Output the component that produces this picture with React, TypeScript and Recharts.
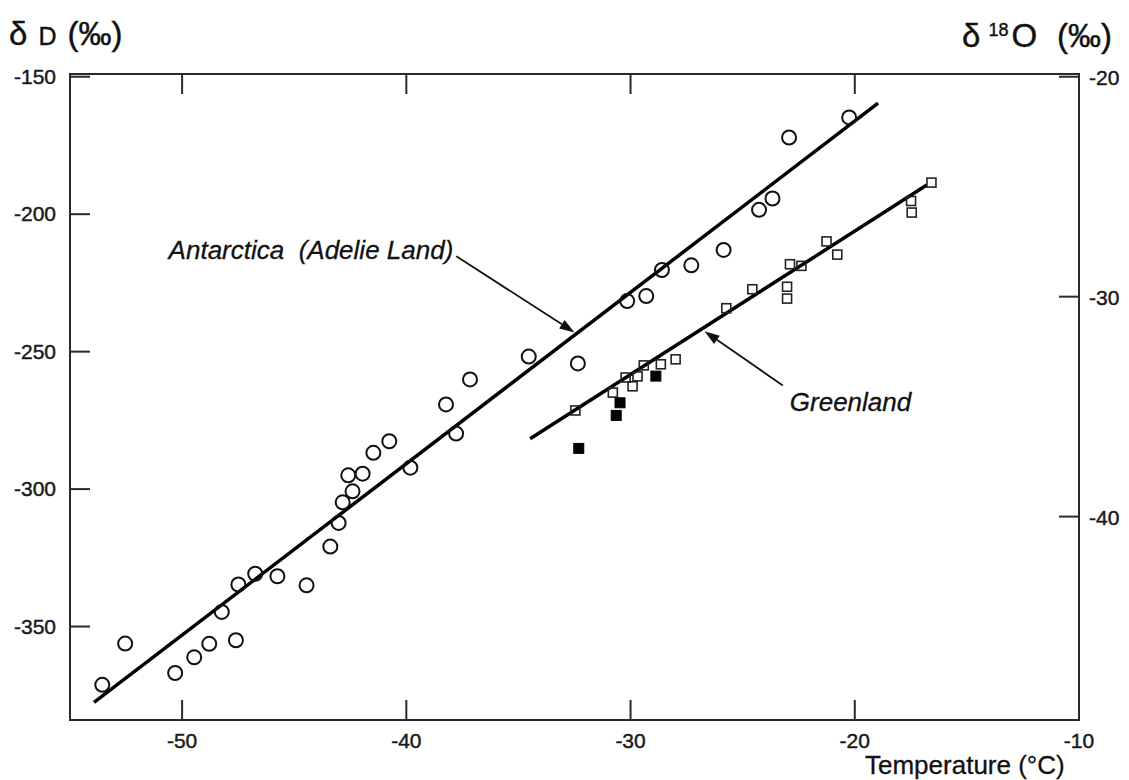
import { ScatterChart, Scatter, XAxis, YAxis, ReferenceArea, ReferenceLine } from "recharts";

const FONT = '"Liberation Sans", Arial, Helvetica, sans-serif';

// Antarctica (Adelie Land): surface temperature (°C) vs δD (‰)
const antarctica = [
  { t: -53.56, d: -371.2 },
  { t: -52.54, d: -356.2 },
  { t: -50.31, d: -366.9 },
  { t: -49.46, d: -361.2 },
  { t: -48.79, d: -356.3 },
  { t: -48.23, d: -344.7 },
  { t: -47.6, d: -355.0 },
  { t: -47.49, d: -334.7 },
  { t: -46.74, d: -330.8 },
  { t: -45.75, d: -331.7 },
  { t: -44.45, d: -335.0 },
  { t: -43.39, d: -320.9 },
  { t: -43.02, d: -312.3 },
  { t: -42.84, d: -304.8 },
  { t: -42.59, d: -295.0 },
  { t: -42.4, d: -300.8 },
  { t: -41.95, d: -294.4 },
  { t: -41.47, d: -286.8 },
  { t: -40.76, d: -282.6 },
  { t: -39.82, d: -292.2 },
  { t: -38.23, d: -269.2 },
  { t: -37.78, d: -279.8 },
  { t: -37.16, d: -260.1 },
  { t: -34.54, d: -251.8 },
  { t: -32.35, d: -254.3 },
  { t: -30.15, d: -231.6 },
  { t: -29.3, d: -229.8 },
  { t: -28.6, d: -220.3 },
  { t: -27.29, d: -218.6 },
  { t: -25.85, d: -213.0 },
  { t: -24.27, d: -198.4 },
  { t: -23.67, d: -194.3 },
  { t: -22.93, d: -172.1 },
  { t: -20.25, d: -164.8 },
];

// Greenland, open squares
const greenlandOpen = [
  { t: -32.46, d: -271.4 },
  { t: -30.79, d: -264.9 },
  { t: -30.22, d: -259.4 },
  { t: -29.91, d: -262.6 },
  { t: -29.69, d: -259.0 },
  { t: -29.41, d: -255.0 },
  { t: -28.65, d: -254.6 },
  { t: -27.99, d: -252.8 },
  { t: -25.73, d: -234.2 },
  { t: -24.57, d: -227.3 },
  { t: -23.02, d: -226.4 },
  { t: -23.02, d: -230.7 },
  { t: -22.89, d: -218.2 },
  { t: -22.38, d: -218.8 },
  { t: -21.26, d: -209.9 },
  { t: -20.78, d: -214.7 },
  { t: -17.49, d: -195.2 },
  { t: -17.46, d: -199.4 },
  { t: -16.58, d: -188.5 },
];

// Greenland, filled squares
const greenlandFilled = [
  { t: -32.31, d: -285.2 },
  { t: -30.64, d: -273.2 },
  { t: -30.47, d: -268.6 },
  { t: -28.87, d: -258.9 },
];

// regression lines (end points)
const antarcticaFit = [
  { t: -53.93, d: -377.6 },
  { t: -18.96, d: -159.6 },
];
const greenlandFit = [
  { t: -34.48, d: -281.7 },
  { t: -16.79, d: -189.4 },
];

const tempTicks = [-50, -40, -30, -20, -10];
const dDTicks = [-350, -300, -250, -200, -150];
const d18OTicks = [-40, -30, -20];
const tempDomain = [-55, -10];
const dDDomain = [-384, -149];
const d18ODomain = [-49.25, -19.875]; // δD = 8·δ18O + 10

const PLOT = { left: 70, right: 1079, top: 74, bottom: 720 };
const TICK_LEN = 20;
const AXIS = "#2a2a2a";

const tickText = {
  fontFamily: FONT,
  fontSize: 21,
  fill: "#1a1a1a",
  stroke: "#1a1a1a",
  strokeWidth: 0.45,
};

function BottomTick(props: any) {
  const { x, payload } = props;
  return (
    <g>
      <line x1={x} x2={x} y1={PLOT.bottom} y2={PLOT.bottom - TICK_LEN} stroke={AXIS} strokeWidth={2} />
      <line x1={x} x2={x} y1={PLOT.top} y2={PLOT.top + TICK_LEN} stroke={AXIS} strokeWidth={2} />
      <text x={x} y={PLOT.bottom + 28} textAnchor="middle" style={tickText}>
        {payload.value}
      </text>
    </g>
  );
}

function LeftTick(props: any) {
  const { y, payload } = props;
  return (
    <g>
      <line x1={PLOT.left} x2={PLOT.left + TICK_LEN} y1={y} y2={y} stroke={AXIS} strokeWidth={2} />
      <text x={PLOT.left - 14} y={y + 7} textAnchor="end" style={tickText}>
        {payload.value}
      </text>
    </g>
  );
}

function RightTick(props: any) {
  const { y, payload } = props;
  return (
    <g>
      <line x1={PLOT.right} x2={PLOT.right - TICK_LEN} y1={y} y2={y} stroke={AXIS} strokeWidth={2} />
      <text x={PLOT.right + 10} y={y + 8} textAnchor="start" style={tickText}>
        {payload.value}
      </text>
    </g>
  );
}

const circleShape = (p: any) => (
  <circle cx={p.cx} cy={p.cy} r={7} fill="none" stroke="#111" strokeWidth={2} />
);
const openSquare = (p: any) => (
  <rect x={p.cx - 4.5} y={p.cy - 4.5} width={9} height={9} fill="none" stroke="#222" strokeWidth={1.6} />
);
const filledSquare = (p: any) => (
  <rect x={p.cx - 5} y={p.cy - 5} width={10} height={10} fill="#000" stroke="#000" />
);
const noShape = () => <g />;

// arrow with its label, label placed relative to the start of the arrow
function arrowWithLabel(text: string, dx: number, dy: number, anchor: "start" | "end") {
  return (props: any) => {
    const { x1, y1, x2, y2 } = props;
    const a = Math.atan2(y2 - y1, x2 - x1);
    const len = 15;
    const half = 5;
    const bx = x2 - len * Math.cos(a);
    const by = y2 - len * Math.sin(a);
    const pts = [
      `${x2},${y2}`,
      `${bx + half * Math.sin(a)},${by - half * Math.cos(a)}`,
      `${bx - half * Math.sin(a)},${by + half * Math.cos(a)}`,
    ].join(" ");
    return (
      <g>
        <line x1={x1} y1={y1} x2={bx} y2={by} stroke="#111" strokeWidth={1.8} />
        <polygon points={pts} fill="#111" />
        <text
          x={x1 + dx}
          y={y1 + dy}
          textAnchor={anchor}
          style={{
            fontFamily: FONT,
            fontSize: 26,
            fontStyle: "italic",
            fill: "#111",
            stroke: "#111",
            strokeWidth: 0.3,
            whiteSpace: "pre",
          }}
        >
          {text}
        </text>
      </g>
    );
  };
}

export default function App() {
  return (
    <div style={{ position: "absolute", left: 0, top: 0, width: 1129, height: 780, background: "#fff" }}>
      <ScatterChart width={1129} height={780} margin={{ top: PLOT.top, right: 0, bottom: 0, left: 0 }}>
        <XAxis
          dataKey="t"
          type="number"
          domain={tempDomain}
          ticks={tempTicks}
          interval={0}
          allowDataOverflow
          axisLine={false}
          tickLine={false}
          tick={BottomTick}
          height={60}
        />
        <YAxis
          yAxisId="left"
          dataKey="d"
          type="number"
          domain={dDDomain}
          ticks={dDTicks}
          interval={0}
          allowDataOverflow
          axisLine={false}
          tickLine={false}
          tick={LeftTick}
          width={70}
        />
        <YAxis
          yAxisId="right"
          orientation="right"
          type="number"
          domain={d18ODomain}
          ticks={d18OTicks}
          interval={0}
          allowDataOverflow
          axisLine={false}
          tickLine={false}
          tick={RightTick}
          width={50}
        />
        <ReferenceArea
          yAxisId="left"
          x1={tempDomain[0]}
          x2={tempDomain[1]}
          y1={dDDomain[0]}
          y2={dDDomain[1]}
          fill="none"
          stroke={AXIS}
          strokeWidth={2}
          fillOpacity={0}
        />
        <Scatter
          yAxisId="left"
          data={antarcticaFit}
          line={{ stroke: "#000", strokeWidth: 3.5 }}
          shape={noShape}
          isAnimationActive={false}
        />
        <Scatter
          yAxisId="left"
          data={greenlandFit}
          line={{ stroke: "#000", strokeWidth: 3.5 }}
          shape={noShape}
          isAnimationActive={false}
        />
        <Scatter yAxisId="left" data={antarctica} shape={circleShape} isAnimationActive={false} />
        <Scatter yAxisId="left" data={greenlandOpen} shape={openSquare} isAnimationActive={false} />
        <Scatter yAxisId="left" data={greenlandFilled} shape={filledSquare} isAnimationActive={false} />
        <ReferenceLine
          yAxisId="left"
          segment={[
            { x: -37.77, y: -215.3 },
            { x: -32.5, y: -243.0 },
          ]}
          shape={arrowWithLabel("Antarctica  (Adelie Land)", -3, 3, "end")}
        />
        <ReferenceLine
          yAxisId="left"
          segment={[
            { x: -23.21, y: -262.3 },
            { x: -26.7, y: -242.6 },
          ]}
          shape={arrowWithLabel("Greenland", 7, 26, "start")}
        />
      </ScatterChart>
      <svg
        width={1129}
        height={780}
        style={{ position: "absolute", left: 0, top: 0, pointerEvents: "none" }}
      >
        <text x={9} y={45} style={{ fontFamily: FONT, fill: "#111", stroke: "#111", strokeWidth: 0.4 }}>
          <tspan fontSize={33}>δ</tspan>
          <tspan fontSize={25} dx={11}>D</tspan>
          <tspan fontSize={33} dx={11}>(‰)</tspan>
        </text>
        <text x={962} y={47} style={{ fontFamily: FONT, fill: "#111", stroke: "#111", strokeWidth: 0.4 }}>
          <tspan fontSize={33}>δ</tspan>
          <tspan fontSize={18} dx={8} dy={-11}>18</tspan>
          <tspan fontSize={33} dx={3} dy={11}>O</tspan>
          <tspan fontSize={33} dx={20}>(‰)</tspan>
        </text>
        <text
          x={865}
          y={774}
          style={{ fontFamily: FONT, fontSize: 26, fill: "#111", stroke: "#111", strokeWidth: 0.3 }}
        >
          Temperature (°C)
        </text>
      </svg>
    </div>
  );
}
